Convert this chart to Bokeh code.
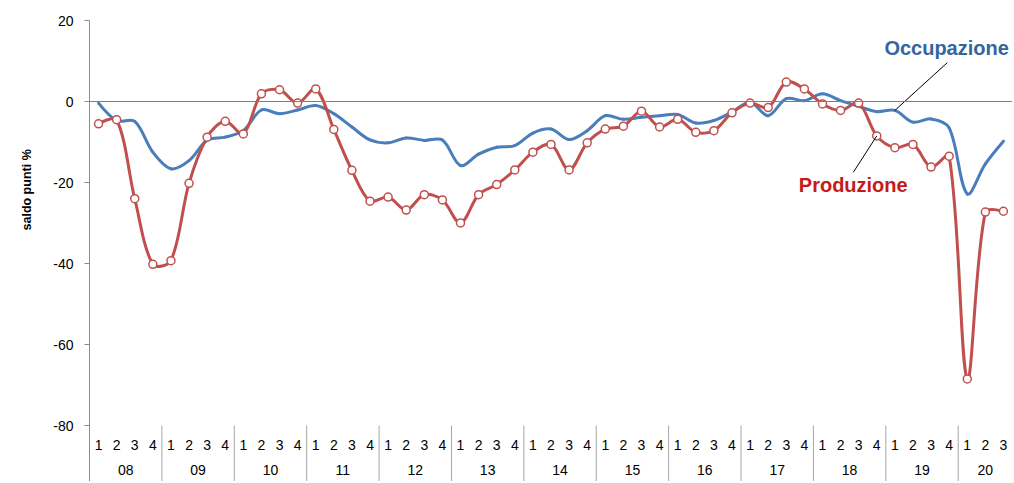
import numpy as np
from bokeh.plotting import figure
from bokeh.models import FixedTicker, Span, Label, Title, ColumnDataSource
from bokeh.embed import file_html
from bokeh.resources import INLINE
from bokeh.core.properties import value

# ---------------- data ----------------
years = ["08", "09", "10", "11", "12", "13", "14", "15", "16", "17", "18", "19", "20"]
quarters_per_year = [4, 4, 4, 4, 4, 4, 4, 4, 4, 4, 4, 4, 3]
quarter_names = ["1", "2", "3", "4"]

produzione = [
    -5.5, -4.5, -24.0, -40.2, -39.3, -20.2, -8.8, -4.9, -8.0, 1.9, 2.9, -0.4,
    3.1, -6.9, -17.0, -24.6, -23.6, -26.8, -23.0, -24.3, -30.0, -23.0, -20.5, -16.9,
    -12.5, -10.6, -16.9, -10.2, -6.8, -6.1, -2.4, -6.3, -4.4, -7.6, -7.2, -2.8,
    -0.4, -1.5, 4.8, 3.1, -0.6, -2.2, -0.4, -8.5, -11.4, -10.6, -16.2, -13.5,
    -68.5, -27.3, -27.1,
]
occupazione = [
    -0.4, -4.7, -4.9, -12.5, -16.6, -14.6, -9.6, -8.8, -7.2, -2.1, -3.0, -2.1,
    -1.0, -3.0, -6.3, -9.5, -10.2, -9.0, -9.6, -9.5, -15.8, -13.0, -11.3, -10.9,
    -7.8, -6.8, -9.4, -7.2, -3.5, -4.4, -3.9, -3.5, -3.2, -5.3, -4.7, -2.6,
    -0.2, -3.5, 0.7, 0.2, 1.9, 0.2, -1.2, -2.5, -2.2, -5.1, -4.3, -6.5,
    -22.8, -15.4, -9.8,
]
y_ticks = [-80, -60, -40, -20, 0, 20]

# ---------------- geometry / style ----------------
W, H = 1012, 481
LEFT, TOP = 88, 20
n = len(produzione)
frame_w = W - LEFT
px_per_y = 4.05
y_top = 20
y_bot = y_top - (H - TOP) / px_per_y
kx = frame_w / n

FONT = "Liberation Sans"
RED = "#C0504D"
BLUE = "#4A7EBB"
GRAY = "#8C8C8C"

xs = np.arange(n) + 0.5


def smooth_segments(xv, yv, t=1.0 / 3.0):
    """Bezier control points (chord-weighted Catmull-Rom, computed in pixel space)."""
    X = np.asarray(xv, float) * kx
    Y = np.asarray(yv, float) * px_per_y
    m = len(X)
    cin = np.zeros((m, 2))
    cout = np.zeros((m, 2))
    for i in range(m):
        P = np.array([X[i], Y[i]])
        if i == 0 or i == m - 1:
            cin[i] = P
            cout[i] = P
            continue
        Pp = np.array([X[i - 1], Y[i - 1]])
        Pn = np.array([X[i + 1], Y[i + 1]])
        T = Pn - Pp
        dp = np.hypot(*(P - Pp))
        dn = np.hypot(*(Pn - P))
        s = dp + dn
        cout[i] = P + T * t * dn / s
        cin[i] = P - T * t * dp / s
    d = dict(
        x0=X[:-1] / kx, y0=Y[:-1] / px_per_y,
        x1=X[1:] / kx, y1=Y[1:] / px_per_y,
        cx0=cout[:-1, 0] / kx, cy0=cout[:-1, 1] / px_per_y,
        cx1=cin[1:, 0] / kx, cy1=cin[1:, 1] / px_per_y,
    )
    return ColumnDataSource(d)


p = figure(
    width=W, height=H, x_range=(0, n), y_range=(y_bot, y_top),
    output_backend="svg", toolbar_location=None, x_axis_location=None,
    min_border_left=LEFT, min_border_right=0, min_border_top=TOP, min_border_bottom=0,
    background_fill_color="white", border_fill_color="white",
)
p.outline_line_color = None
p.grid.visible = False

# y axis
ax = p.yaxis[0]
ax.ticker = FixedTicker(ticks=y_ticks, minor_ticks=[])
ax.major_label_overrides = {v: str(v) for v in y_ticks}
ax.axis_line_color = GRAY
ax.major_tick_line_color = GRAY
ax.major_tick_out = 5
ax.major_tick_in = 0
ax.minor_tick_line_color = None
ax.major_label_text_font = FONT
ax.major_label_text_font_size = "14px"
ax.major_label_text_color = "#000000"
ax.major_label_standoff = 11

# zero line
p.add_layout(Span(location=0, dimension="width", line_color="#7F7F7F", line_width=1))

# category separators (year boundaries)
bounds = np.concatenate([[0], np.cumsum(quarters_per_year)])
p.segment(x0=bounds[1:], y0=[-80] * len(bounds[1:]), x1=bounds[1:], y1=[y_bot] * len(bounds[1:]),
          line_color="#A6A6A6", line_width=1)

# quarter labels
q_lab = []
for nq in quarters_per_year:
    q_lab += quarter_names[:nq]
p.text(x=xs, y=[-84.9] * n, text=q_lab, text_align="center", text_baseline="middle",
       text_font=value(FONT), text_font_size="14px", text_color="#000000")

# year labels
y_centers = (bounds[:-1] + bounds[1:]) / 2.0
p.text(x=y_centers, y=[-91.1] * len(years), text=years, text_align="center", text_baseline="middle",
       text_font=value(FONT), text_font_size="14px", text_color="#000000")

# series
src_o = smooth_segments(xs, occupazione)
p.bezier(x0="x0", y0="y0", x1="x1", y1="y1", cx0="cx0", cy0="cy0", cx1="cx1", cy1="cy1",
         source=src_o, line_color=BLUE, line_width=3, line_cap="round")
src_p = smooth_segments(xs, produzione)
p.bezier(x0="x0", y0="y0", x1="x1", y1="y1", cx0="cx0", cy0="cy0", cx1="cx1", cy1="cy1",
         source=src_p, line_color=RED, line_width=3, line_cap="round")
p.scatter(xs, produzione, marker="circle", size=8, fill_color="white", line_color=RED, line_width=1.5)

# leader lines and series labels
io, ip = 44, 43
p.segment(x0=[xs[io]], y0=[occupazione[io]], x1=[47.4], y1=[9.6], line_color="#000000", line_width=1)
p.segment(x0=[xs[ip]], y0=[produzione[ip]], x1=[42.2], y1=[-17.5], line_color="#000000", line_width=1)
p.add_layout(Label(x=47.36, y=13.1, text="Occupazione", text_align="center", text_baseline="middle",
                   text_font=FONT, text_font_size="20px", text_font_style="bold", text_color="#35649F"))
p.add_layout(Label(x=42.2, y=-20.7, text="Produzione", text_align="center", text_baseline="middle",
                   text_font=FONT, text_font_size="20px", text_font_style="bold", text_color="#C41A1A"))

# y axis title as a side title
yt = Title(text="saldo punti %", align="left", offset=251, standoff=34, text_font=FONT,
           text_font_size="12.5px", text_font_style="bold", text_color="#000000")
p.add_layout(yt, "left")

open("out.html", "w").write(file_html(p, INLINE))
